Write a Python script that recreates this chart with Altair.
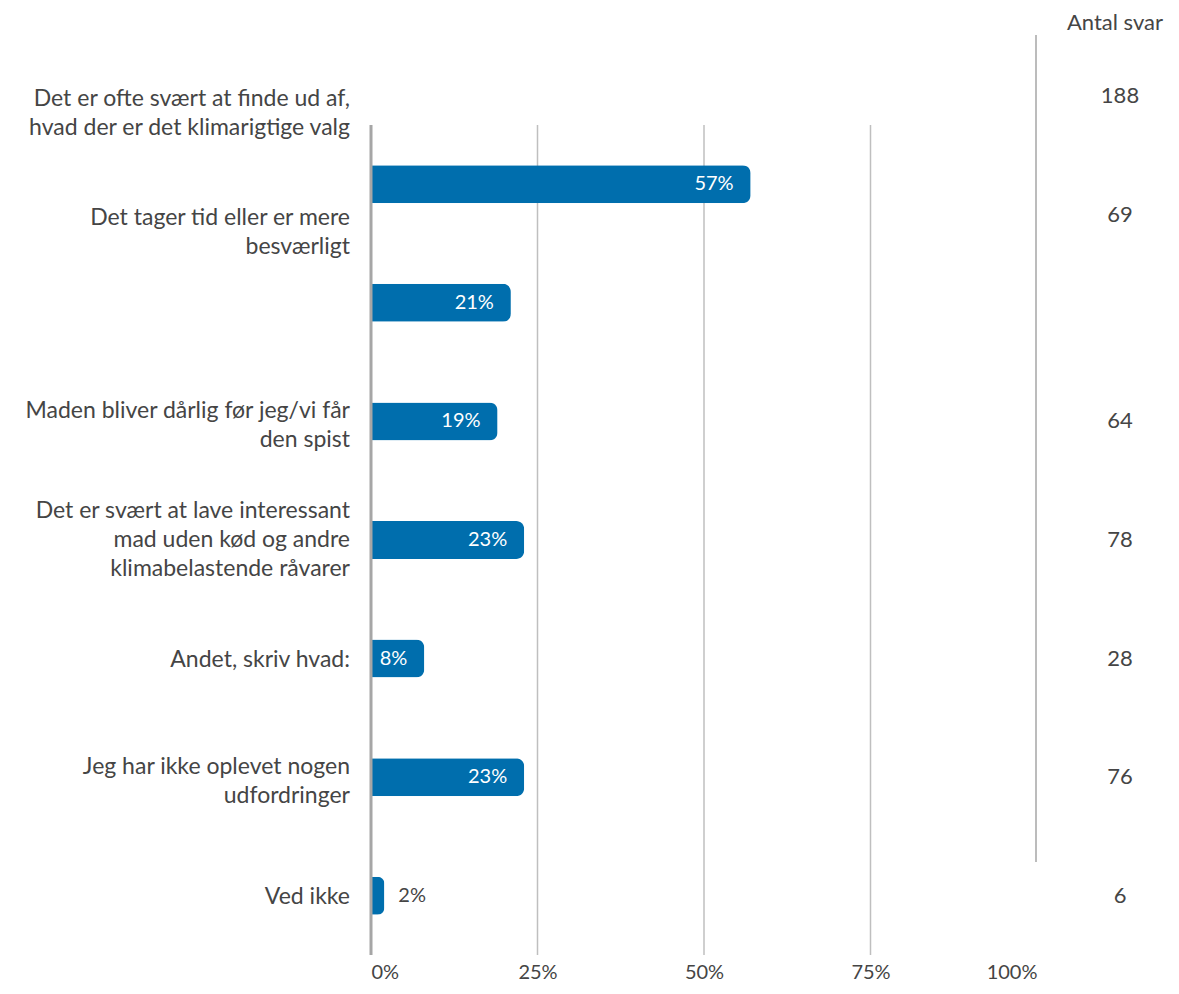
import altair as alt
import pandas as pd

categories = [
    "Det er ofte svært at finde ud af,\nhvad der er det klimarigtige valg",
    "Det tager tid eller er mere\nbesværligt",
    "Maden bliver dårlig før jeg/vi får\nden spist",
    "Det er svært at lave interessant\nmad uden kød og andre\nklimabelastende råvarer",
    "Andet, skriv hvad:",
    "Jeg har ikke oplevet nogen\nudfordringer",
    "Ved ikke",
]
shares = [0.57, 0.21, 0.19, 0.23, 0.08, 0.23, 0.02]
counts = [188, 69, 64, 78, 28, 76, 6]
tick_values = [0, 0.25, 0.5, 0.75, 1.0]
grid_values = [0.25, 0.5, 0.75]
count_header = "Antal svar"

FONT = "Lato"
TXT = "#454545"
BLUE = "#006EAD"

df = pd.DataFrame({
    "cat": categories,
    "share": shares,
    "n": counts,
    "row": list(range(len(categories))),
})
df["pct"] = [f"{round(s * 100)}%" for s in shares]
df["nlines"] = [c.count("\n") + 1 for c in categories]

W, H = 666, 830
LAB_FS = 23
LH = 29

x_enc = alt.X(
    "share:Q",
    scale=alt.Scale(domain=[0, 1], nice=False, zero=True),
    axis=alt.Axis(
        values=tick_values, format=".0%", grid=False, domain=False, ticks=False,
        labelFlush=True, labelPadding=7, labelFontSize=20, labelFont=FONT,
        labelColor=TXT, title=None,
    ),
)
y_enc = alt.Y(
    "cat:N", sort=categories, axis=None,
    scale=alt.Scale(paddingInner=0, paddingOuter=0),
)

base = alt.Chart(df)

grid = alt.Chart(pd.DataFrame({"g": grid_values})).mark_rule(
    color="#bfbfbf", strokeWidth=1.5
).encode(x=alt.X("g:Q"), y=alt.value(0), y2=alt.value(H))

zero = alt.Chart(pd.DataFrame({"g": [0]})).mark_rule(
    color="#a6a6a6", strokeWidth=3
).encode(x=alt.X("g:Q"), y=alt.value(0), y2=alt.value(H))

bars = base.mark_bar(color=BLUE, size=38, cornerRadiusEnd=8).encode(x=x_enc, y=y_enc)

inside = base.transform_filter("datum.share >= 0.05").mark_text(
    align="right", baseline="middle", dx=-17, color="white", fontSize=20, font=FONT
).encode(x="share:Q", y=y_enc, text="pct:N")

outside = base.transform_filter("datum.share < 0.05").mark_text(
    align="left", baseline="middle", dx=14, color=TXT, fontSize=20, font=FONT
).encode(x="share:Q", y=y_enc, text="pct:N")


def label_layer(cond, dy):
    return base.transform_filter(cond).mark_text(
        align="right", baseline="middle", lineBreak="\n", lineHeight=LH,
        fontSize=LAB_FS, font=FONT, color=TXT, dy=dy
    ).encode(x=alt.value(-21), y=y_enc, text="cat:N")


lab_top = label_layer("datum.row < 2", -85)
lab_two = label_layer("datum.row >= 2 && datum.nlines == 2", -10)
lab_three = label_layer("datum.row >= 2 && datum.nlines == 3", -29)
lab_one = label_layer("datum.row >= 2 && datum.nlines == 1", 1)

cnt_main = base.transform_filter("datum.row >= 2").mark_text(
    align="center", baseline="middle", fontSize=22, font=FONT, color=TXT
).encode(x=alt.value(749), y=y_enc, text="n:Q")

cnt_shift = base.transform_filter("datum.row < 2").mark_text(
    align="center", baseline="middle", fontSize=22, font=FONT, color=TXT, dy=-88
).encode(x=alt.value(749), y=y_enc, text="n:Q")

header = alt.Chart(pd.DataFrame({"h": [count_header]})).mark_text(
    align="center", baseline="middle", fontSize=22, font=FONT, color=TXT
).encode(x=alt.value(744), y=alt.value(-102), text="h:N")

sep = alt.Chart(pd.DataFrame({"h": [count_header]})).mark_rule(
    color="#a6a6a6", strokeWidth=1.5
).encode(x=alt.value(W - 1), y=alt.value(-90), y2=alt.value(737))

chart = alt.layer(
    grid, bars, zero, inside, outside, lab_top, lab_two, lab_three, lab_one,
    cnt_main, cnt_shift, header, sep
).properties(
    width=W, height=H,
    autosize=alt.AutoSizeParams(type="none"),
    padding={"left": 363, "top": 117, "right": 134, "bottom": 31},
).configure_view(stroke=None)

chart.save("out.html", embed_options={"renderer": "svg", "actions": False})
